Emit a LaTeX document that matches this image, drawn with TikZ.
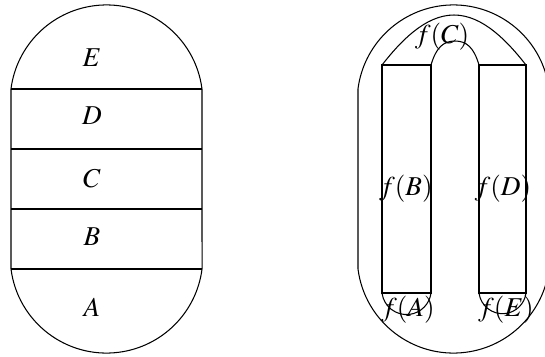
\documentclass[tikz,border=0pt]{standalone}
\usepackage{mathptmx}
\begin{document}
\begin{tikzpicture}[
    x=0.02cm, y=-0.02cm,
    line width=0.6pt,
    every node/.style={font=\fontsize{15.5}{18}\selectfont, inner sep=0pt},
    piece/.style={anchor=base}
]
\useasboundingbox (0,0) rectangle (545,356);
\clip (0,0) rectangle (545,356);

% Left stadium
\draw (11,89) -- (11,269) arc (172.7:7.3:96.3) -- (202,89) arc (-7.3:-172.7:96.3) -- cycle;
\foreach \y in {149,209,269} \draw (11,\y) -- (202,\y);
\draw (11,89) -- (202,89);

\node[piece] (E) at (92,66) {$E$};
\node[piece] (D) at (92,124) {$D$};
\node[piece] (C) at (92,187) {$C$};
\node[piece] (B) at (92,245) {$B$};
\node[piece] (A) at (92,316) {$A$};

% Right stadium
\draw (358,89) -- (358,269) arc (172.7:7.3:96.3) -- (549,89) arc (-7.3:-172.7:96.3) -- cycle;

% Horseshoe
\draw (382,65) rectangle (431,293);
\draw (479,65) rectangle (526,293);
\draw (382,65) .. controls (400,42) and (425,15) .. (454,15)
               .. controls (483,15) and (508,42) .. (526,65);
\draw (431,65) .. controls (436,48) and (443,41) .. (455,41)
               .. controls (467,41) and (474,48) .. (479,65);
\draw (382,293) arc (172.7:7.3:24.7);
\draw (479,293) arc (172.7:7.3:23.7);

\node[piece] (fC) at (442,43) {$f(C)$};
\node[piece] (fB) at (406,195) {$f(B)$};
\node[piece] (fD) at (503,195) {$f(D)$};
\node[piece] (fA) at (408,316) {$f(A)$};
\node[piece] (fE) at (506,316) {$f(E)$};

\end{tikzpicture}
\end{document}
